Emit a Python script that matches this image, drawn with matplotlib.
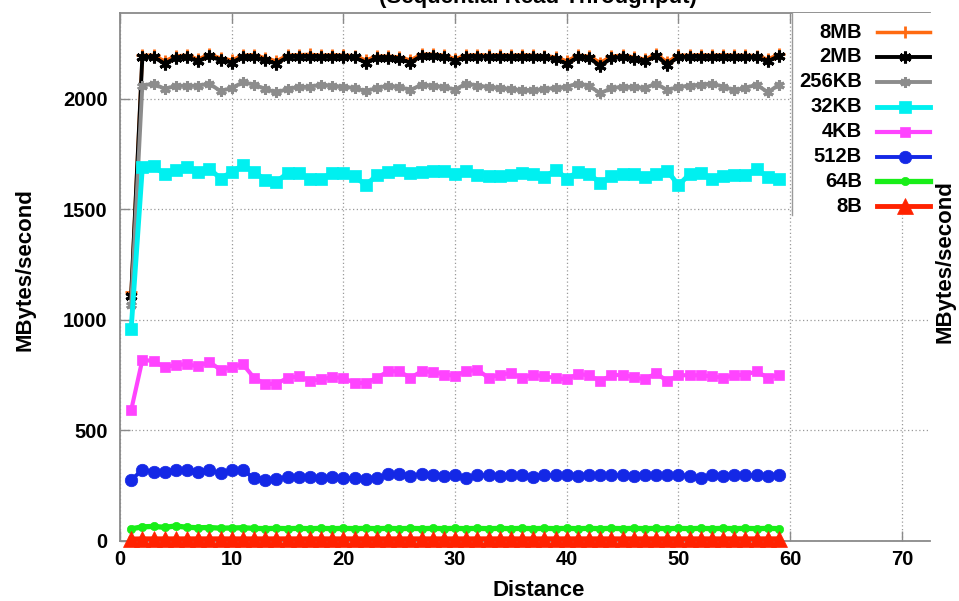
import matplotlib
matplotlib.use("Agg")
import matplotlib.pyplot as plt
from matplotlib.lines import Line2D
from matplotlib.patches import Rectangle

plt.rcParams["font.family"] = ["Liberation Sans", "DejaVu Sans"]
plt.rcParams["font.weight"] = "bold"

# Distance between accesses
distance = list(range(1, 60))

# Throughput (MBytes/second) per request size
mb_8mb = [1125, 2198, 2198, 2172, 2195, 2198, 2180, 2203, 2185, 2176,
          2198, 2200, 2186, 2172, 2198, 2200, 2202, 2198, 2200, 2198,
          2196, 2176, 2194, 2194, 2190, 2176, 2203, 2203, 2198, 2182,
          2198, 2200, 2198, 2200, 2198, 2200, 2198, 2196, 2190, 2172,
          2198, 2194, 2165, 2194, 2198, 2190, 2180, 2203, 2168, 2198,
          2198, 2200, 2198, 2200, 2198, 2198, 2196, 2180, 2203]
mb_2mb = [1110, 2190, 2190, 2160, 2185, 2190, 2170, 2195, 2175, 2165,
          2190, 2190, 2175, 2160, 2190, 2192, 2192, 2190, 2192, 2190,
          2188, 2165, 2185, 2185, 2180, 2165, 2195, 2195, 2190, 2172,
          2190, 2192, 2190, 2192, 2190, 2192, 2190, 2188, 2180, 2160,
          2190, 2185, 2150, 2185, 2190, 2180, 2170, 2195, 2155, 2190,
          2190, 2192, 2190, 2192, 2190, 2190, 2188, 2170, 2195]
mb_256kb = [1070, 2060, 2070, 2045, 2060, 2060, 2060, 2070, 2035, 2050,
            2075, 2065, 2045, 2030, 2045, 2055, 2055, 2065, 2060, 2055,
            2050, 2035, 2050, 2060, 2055, 2040, 2065, 2060, 2055, 2042,
            2070, 2060, 2055, 2050, 2045, 2040, 2040, 2045, 2050, 2055,
            2070, 2060, 2025, 2050, 2055, 2055, 2050, 2070, 2040, 2055,
            2060, 2065, 2070, 2055, 2040, 2050, 2065, 2030, 2065]
mb_32kb = [960, 1690, 1695, 1660, 1680, 1690, 1670, 1685, 1640, 1670,
           1700, 1670, 1635, 1625, 1665, 1665, 1640, 1640, 1665, 1665,
           1650, 1610, 1655, 1670, 1680, 1665, 1670, 1675, 1675, 1662,
           1675, 1655, 1650, 1650, 1655, 1665, 1660, 1645, 1680, 1640,
           1670, 1660, 1620, 1650, 1660, 1660, 1645, 1660, 1675, 1610,
           1660, 1665, 1640, 1650, 1655, 1655, 1685, 1645, 1640]
mb_4kb = [592, 819, 815, 786, 797, 800, 790, 810, 775, 786,
          800, 738, 711, 711, 738, 745, 726, 731, 741, 738,
          715, 715, 738, 768, 768, 738, 768, 765, 753, 748,
          768, 775, 738, 752, 760, 738, 752, 745, 738, 731,
          756, 750, 723, 750, 752, 741, 731, 760, 723, 750,
          750, 750, 745, 738, 750, 752, 768, 738, 752]
mb_512b = [277, 321, 314, 314, 321, 321, 314, 321, 306, 321,
           321, 284, 277, 281, 291, 291, 291, 287, 291, 287,
           284, 281, 287, 302, 302, 296, 302, 299, 296, 299,
           286, 297, 299, 296, 299, 297, 288, 299, 297, 299,
           296, 299, 297, 299, 297, 296, 299, 297, 299, 297,
           296, 286, 297, 296, 299, 297, 299, 293, 299]
mb_64b = [55, 64, 66, 62, 68, 62, 60, 61, 58, 59,
          60, 57, 56, 57, 56, 57, 56, 57, 56, 57,
          56, 57, 56, 57, 56, 57, 56, 57, 56, 57,
          56, 57, 56, 57, 56, 57, 56, 57, 56, 57,
          56, 57, 56, 57, 56, 57, 56, 57, 56, 57,
          56, 57, 56, 57, 56, 57, 56, 57, 56]
mb_8b = [9, 10, 10, 10, 10, 10, 10, 10, 10, 10,
         10, 10, 10, 10, 10, 10, 10, 10, 10, 10,
         10, 10, 10, 10, 10, 10, 10, 10, 10, 10,
         10, 10, 10, 10, 10, 10, 10, 10, 10, 10,
         10, 10, 10, 10, 10, 10, 10, 10, 10, 10,
         10, 10, 10, 10, 10, 10, 10, 10, 10]

labels = ["8MB", "2MB", "256KB", "32KB", "4KB", "512B", "64B", "8B"]
series = [mb_8mb, mb_2mb, mb_256kb, mb_32kb, mb_4kb, mb_512b, mb_64b, mb_8b]
colors = ["#ff6a10", "#000000", "#8c8c8c", "#00f0f0", "#ff44ff",
          "#1428e6", "#18ee18", "#ff2200"]
markers = ["+", (6, 2, 0), (6, 2, 0), "s", "s", "o", "o", "^"]
msizes = [8, 8.5, 7.5, 9, 6.5, 9, 6, 11]
mews = [2.0, 2.2, 2.2, 0.5, 0.5, 0.5, 0.5, 0.5]
lws = [2.5, 2.8, 2.8, 3.5, 3.0, 2.8, 3.8, 3.5]

W, H = 959, 601
fig = plt.figure(figsize=(W / 100, H / 100), dpi=100)
ax = fig.add_axes([120 / W, 60 / H, 810 / W, 528 / H])

for vals, lab, c, m, ms, mew, lw in zip(series, labels, colors, markers,
                                        msizes, mews, lws):
    ax.plot(distance, vals, color=c, marker=m, markersize=ms, lw=lw,
            markeredgewidth=mew, markeredgecolor=c, label=lab, zorder=3,
            clip_on=False)

ax.set_xlim(0, 72.52)
ax.set_ylim(0, 2389)
ax.set_xticks(range(0, 80, 10))
ax.set_yticks(range(0, 2001, 500))
ax.grid(True, color="#9a9a9a", lw=0.9, linestyle=(0, (1, 2)))
ax.set_axisbelow(True)

for side in ["left", "bottom", "top"]:
    ax.spines[side].set_color("#8a8a8a")
    ax.spines[side].set_linewidth(1.3)
ax.spines["right"].set_visible(False)
ax.tick_params(axis="both", direction="in", length=7, width=1.0,
               color="#8a8a8a", labelsize=14.5)
ax.tick_params(axis="x", top=True, pad=6.5)
ax.tick_params(axis="y", pad=9)
for t in ax.get_xticklabels() + ax.get_yticklabels():
    t.set_fontweight("bold")

# key area on the upper right
fig.add_artist(Rectangle((793 / W, 1 - 215 / H), (W - 793) / W, (215 - 13) / H,
                         transform=fig.transFigure, facecolor="white",
                         edgecolor="none", zorder=2))
fig.add_artist(Line2D([792 / W, 792 / W], [1 - 13 / H, 1 - 215 / H],
                      transform=fig.transFigure, color="#9a9a9a", lw=1.0,
                      zorder=3))
for i, (lab, c, m, ms, mew, lw) in enumerate(zip(labels, colors, markers,
                                                 msizes, mews, lws)):
    yy = 1 - (32 + 24.9 * i) / H
    fig.text(862 / W, yy, lab, ha="right", va="center", fontsize=14.5,
             fontweight="bold", zorder=4)
    fig.add_artist(Line2D([877 / W, 930 / W], [yy, yy],
                          transform=fig.transFigure, color=c, lw=lw,
                          zorder=4))
    fig.add_artist(Line2D([905 / W], [yy], transform=fig.transFigure,
                          color=c, marker=m, markersize=ms,
                          markeredgewidth=mew, markeredgecolor=c,
                          linestyle="none", zorder=5))

fig.text(25 / W, 1 - 270 / H, "MBytes/second", rotation=90, ha="center",
         va="center", fontsize=16, fontweight="bold")
fig.text(945 / W, 1 - 262 / H, "MBytes/second", rotation=90, ha="center",
         va="center", fontsize=16, fontweight="bold")
fig.text(539 / W, 1 - 590 / H, "Distance", ha="center", va="center",
         fontsize=16, fontweight="bold")
fig.text(538 / W, 1 - 3 / H, "(Sequential Read Throughput)", ha="center",
         va="baseline", fontsize=16, fontweight="bold")

fig.savefig("out.png", dpi=100, facecolor="white")
